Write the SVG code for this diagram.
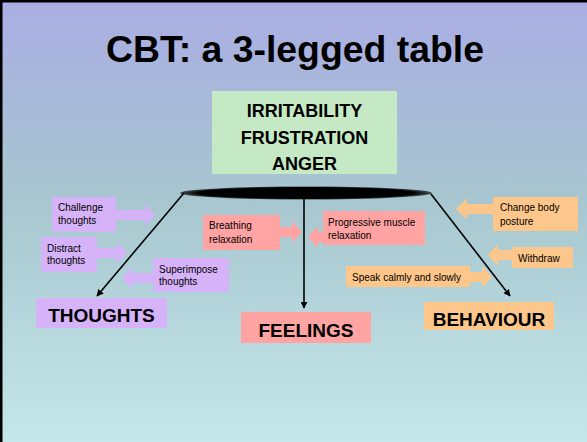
<svg xmlns="http://www.w3.org/2000/svg" width="587" height="442" viewBox="0 0 587 442">
  <defs>
    <linearGradient id="bg" x1="0" y1="0" x2="0" y2="1">
      <stop offset="0" stop-color="#aaade4"/>
      <stop offset="0.45" stop-color="#a7c6cf"/>
      <stop offset="1" stop-color="#c4e7e9"/>
    </linearGradient>
    <radialGradient id="top" cx="0.5" cy="0.5" r="0.5">
      <stop offset="0.85" stop-color="#000"/>
      <stop offset="1" stop-color="#000" stop-opacity="0.6"/>
    </radialGradient>
    <marker id="tip" viewBox="0 0 10 10" refX="9" refY="5" markerWidth="7" markerHeight="7" orient="auto" markerUnits="userSpaceOnUse">
      <path d="M0,0 L10,5 L0,10 z" fill="#000"/>
    </marker>
  </defs>
  <style>
    text { font-family: "Liberation Sans", Arial, sans-serif; fill: #000; }
    .title { font-size: 36px; font-weight: bold; }
    .big { font-size: 19px; font-weight: bold; }
    .mid { font-size: 18px; font-weight: bold; }
    .small { font-size: 10px; }
    .green { fill: #c6e9c5; }
    .purple { fill: #d6b3f8; }
    .pink { fill: #ffa3a3; }
    .orange { fill: #fdc68a; }
    .leg { stroke: #000; stroke-width: 1.6; fill: none; marker-end: url(#tip); }
  </style>

  <!-- slide background and frame -->
  <rect x="0" y="0" width="587" height="442" fill="url(#bg)"/>
  <path d="M1,442 V1 H587" fill="none" stroke="#000" stroke-width="3"/>

  <text class="title" x="295" y="62" text-anchor="middle" textLength="378" lengthAdjust="spacingAndGlyphs">CBT: a 3-legged table</text>

  <!-- table top and legs -->
  <g id="connectors">
    <ellipse cx="306" cy="193" rx="126" ry="6.5" fill="url(#top)"/>
    <line class="leg" x1="184" y1="193" x2="97" y2="296"/>
    <line class="leg" x1="304" y1="195" x2="304" y2="308"/>
    <line class="leg" x1="431" y1="194" x2="510" y2="296"/>
  </g>

  <g id="emotions">
    <rect class="green" x="212" y="91" width="185" height="83"/>
    <text class="mid" x="304.5" y="117" text-anchor="middle">IRRITABILITY</text>
    <text class="mid" x="304.5" y="144" text-anchor="middle">FRUSTRATION</text>
    <text class="mid" x="304.5" y="170" text-anchor="middle">ANGER</text>
  </g>

  <!-- thoughts leg -->
  <g id="challenge-thoughts">
    <polygon class="purple" points="116,210 145,210 145,204 155,215 145,226 145,220 116,220"/>
    <rect class="purple" x="52" y="197" width="64" height="35"/>
    <text class="small" x="58" y="211">Challenge</text>
    <text class="small" x="58" y="224">thoughts</text>
  </g>
  <g id="distract-thoughts">
    <polygon class="purple" points="97,248 117,248 117,242 127,253 117,264 117,258 97,258"/>
    <rect class="purple" x="41" y="237" width="56" height="35"/>
    <text class="small" x="47" y="252">Distract</text>
    <text class="small" x="47" y="264">thoughts</text>
  </g>
  <g id="superimpose-thoughts">
    <polygon class="purple" points="153,273 132,273 132,267 122,278 132,289 132,283 153,283"/>
    <rect class="purple" x="153" y="258" width="76" height="34"/>
    <text class="small" x="159" y="273">Superimpose</text>
    <text class="small" x="159" y="285">thoughts</text>
  </g>
  <g id="thoughts">
    <rect class="purple" x="36" y="298" width="131" height="30"/>
    <text class="big" x="101.5" y="322" text-anchor="middle">THOUGHTS</text>
  </g>

  <!-- feelings leg -->
  <g id="breathing-relaxation">
    <polygon class="pink" points="280,227 292,227 292,221 302,232 292,243 292,237 280,237"/>
    <rect class="pink" x="203" y="215" width="77" height="35"/>
    <text class="small" x="209" y="229">Breathing</text>
    <text class="small" x="209" y="243">relaxation</text>
  </g>
  <g id="progressive-muscle-relaxation">
    <polygon class="pink" points="323,232 318,232 318,226 308,237 318,248 318,242 323,242"/>
    <rect class="pink" x="323" y="211" width="102" height="34"/>
    <text class="small" x="328" y="226">Progressive muscle</text>
    <text class="small" x="328" y="239">relaxation</text>
  </g>
  <g id="feelings">
    <rect class="pink" x="241" y="312" width="130" height="31"/>
    <text class="big" x="306" y="337" text-anchor="middle">FEELINGS</text>
  </g>

  <!-- behaviour leg -->
  <g id="change-body-posture">
    <polygon class="orange" points="493,204 467,204 467,198 456,209 467,220 467,214 493,214"/>
    <rect class="orange" x="493" y="197" width="85" height="34"/>
    <text class="small" x="500" y="211">Change body</text>
    <text class="small" x="500" y="225">posture</text>
  </g>
  <g id="withdraw">
    <polygon class="orange" points="512,250 498,250 498,244 488,255 498,266 498,260 512,260"/>
    <rect class="orange" x="512" y="247" width="61" height="21"/>
    <text class="small" x="518" y="262">Withdraw</text>
  </g>
  <g id="speak-calmly">
    <polygon class="orange" points="470,272 482,272 482,266 492,277 482,288 482,282 470,282"/>
    <rect class="orange" x="346" y="266" width="124" height="21"/>
    <text class="small" x="352" y="281">Speak calmly and slowly</text>
  </g>
  <g id="behaviour">
    <rect class="orange" x="424" y="302" width="130" height="28"/>
    <text class="big" x="489" y="326" text-anchor="middle">BEHAVIOUR</text>
  </g>
</svg>
